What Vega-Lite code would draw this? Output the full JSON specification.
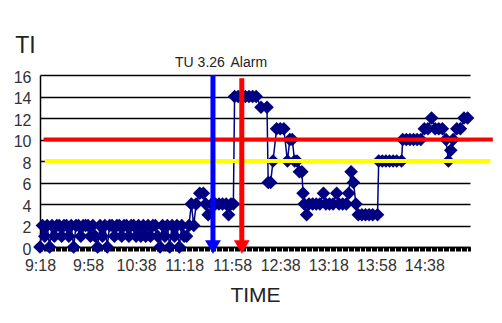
{
  "$schema": "https://vega.github.io/schema/vega-lite/v6.json",
  "width": 430,
  "height": 172,
  "autosize": "none",
  "padding": {"left": 40, "top": 75, "right": 32, "bottom": 76},
  "background": "white",
  "config": {"view": {"stroke": null}, "font": "Liberation Sans"},
  "datasets": {
    "ti": [
      {"t": "2000-01-01T09:18", "v": 0}, {"t": "2000-01-01T09:20", "v": 2}, {"t": "2000-01-01T09:22", "v": 1},
      {"t": "2000-01-01T09:24", "v": 2}, {"t": "2000-01-01T09:26", "v": 0}, {"t": "2000-01-01T09:28", "v": 2},
      {"t": "2000-01-01T09:30", "v": 1}, {"t": "2000-01-01T09:32", "v": 2}, {"t": "2000-01-01T09:34", "v": 2},
      {"t": "2000-01-01T09:36", "v": 1}, {"t": "2000-01-01T09:38", "v": 2}, {"t": "2000-01-01T09:40", "v": 2},
      {"t": "2000-01-01T09:42", "v": 1}, {"t": "2000-01-01T09:44", "v": 2}, {"t": "2000-01-01T09:46", "v": 0},
      {"t": "2000-01-01T09:48", "v": 2}, {"t": "2000-01-01T09:50", "v": 2}, {"t": "2000-01-01T09:52", "v": 1},
      {"t": "2000-01-01T09:54", "v": 2}, {"t": "2000-01-01T09:56", "v": 2}, {"t": "2000-01-01T09:58", "v": 2},
      {"t": "2000-01-01T10:00", "v": 1}, {"t": "2000-01-01T10:02", "v": 2}, {"t": "2000-01-01T10:04", "v": 1},
      {"t": "2000-01-01T10:06", "v": 0}, {"t": "2000-01-01T10:08", "v": 2}, {"t": "2000-01-01T10:10", "v": 1},
      {"t": "2000-01-01T10:12", "v": 2}, {"t": "2000-01-01T10:14", "v": 0}, {"t": "2000-01-01T10:16", "v": 2},
      {"t": "2000-01-01T10:18", "v": 2}, {"t": "2000-01-01T10:20", "v": 1}, {"t": "2000-01-01T10:22", "v": 2},
      {"t": "2000-01-01T10:24", "v": 2}, {"t": "2000-01-01T10:26", "v": 1}, {"t": "2000-01-01T10:28", "v": 2},
      {"t": "2000-01-01T10:30", "v": 2}, {"t": "2000-01-01T10:32", "v": 1}, {"t": "2000-01-01T10:34", "v": 2},
      {"t": "2000-01-01T10:36", "v": 2}, {"t": "2000-01-01T10:38", "v": 1}, {"t": "2000-01-01T10:40", "v": 2},
      {"t": "2000-01-01T10:42", "v": 1}, {"t": "2000-01-01T10:44", "v": 2}, {"t": "2000-01-01T10:46", "v": 1},
      {"t": "2000-01-01T10:48", "v": 2}, {"t": "2000-01-01T10:50", "v": 1}, {"t": "2000-01-01T10:52", "v": 2},
      {"t": "2000-01-01T10:54", "v": 2}, {"t": "2000-01-01T10:56", "v": 1}, {"t": "2000-01-01T10:58", "v": 0},
      {"t": "2000-01-01T11:00", "v": 2}, {"t": "2000-01-01T11:02", "v": 1}, {"t": "2000-01-01T11:04", "v": 2},
      {"t": "2000-01-01T11:06", "v": 0}, {"t": "2000-01-01T11:08", "v": 2}, {"t": "2000-01-01T11:10", "v": 1},
      {"t": "2000-01-01T11:12", "v": 2}, {"t": "2000-01-01T11:14", "v": 0}, {"t": "2000-01-01T11:16", "v": 2},
      {"t": "2000-01-01T11:18", "v": 1}, {"t": "2000-01-01T11:20", "v": 1}, {"t": "2000-01-01T11:22", "v": 2},
      {"t": "2000-01-01T11:24", "v": 4}, {"t": "2000-01-01T11:26", "v": 2}, {"t": "2000-01-01T11:28", "v": 4},
      {"t": "2000-01-01T11:31", "v": 5}, {"t": "2000-01-01T11:34", "v": 5}, {"t": "2000-01-01T11:36", "v": 4},
      {"t": "2000-01-01T11:38", "v": 3}, {"t": "2000-01-01T11:41", "v": 4}, {"t": "2000-01-01T11:44", "v": 4},
      {"t": "2000-01-01T11:47", "v": 4}, {"t": "2000-01-01T11:50", "v": 4}, {"t": "2000-01-01T11:53", "v": 4},
      {"t": "2000-01-01T11:55", "v": 3}, {"t": "2000-01-01T11:57", "v": 4}, {"t": "2000-01-01T11:59", "v": 4},
      {"t": "2000-01-01T12:00", "v": 14}, {"t": "2000-01-01T12:03", "v": 14}, {"t": "2000-01-01T12:06", "v": 14},
      {"t": "2000-01-01T12:09", "v": 14}, {"t": "2000-01-01T12:12", "v": 14}, {"t": "2000-01-01T12:15", "v": 14},
      {"t": "2000-01-01T12:18", "v": 14}, {"t": "2000-01-01T12:22", "v": 13}, {"t": "2000-01-01T12:27", "v": 13},
      {"t": "2000-01-01T12:28", "v": 6}, {"t": "2000-01-01T12:30", "v": 6}, {"t": "2000-01-01T12:32", "v": 8},
      {"t": "2000-01-01T12:35", "v": 11}, {"t": "2000-01-01T12:38", "v": 11}, {"t": "2000-01-01T12:41", "v": 11},
      {"t": "2000-01-01T12:44", "v": 8}, {"t": "2000-01-01T12:46", "v": 10}, {"t": "2000-01-01T12:48", "v": 10},
      {"t": "2000-01-01T12:50", "v": 8}, {"t": "2000-01-01T12:52", "v": 8}, {"t": "2000-01-01T12:54", "v": 7},
      {"t": "2000-01-01T12:56", "v": 7}, {"t": "2000-01-01T12:57", "v": 5}, {"t": "2000-01-01T12:58", "v": 4},
      {"t": "2000-01-01T13:00", "v": 3}, {"t": "2000-01-01T13:02", "v": 4}, {"t": "2000-01-01T13:05", "v": 4},
      {"t": "2000-01-01T13:08", "v": 4}, {"t": "2000-01-01T13:11", "v": 4}, {"t": "2000-01-01T13:14", "v": 5},
      {"t": "2000-01-01T13:16", "v": 4}, {"t": "2000-01-01T13:19", "v": 4}, {"t": "2000-01-01T13:22", "v": 4},
      {"t": "2000-01-01T13:25", "v": 5}, {"t": "2000-01-01T13:27", "v": 4}, {"t": "2000-01-01T13:30", "v": 4},
      {"t": "2000-01-01T13:33", "v": 4}, {"t": "2000-01-01T13:35", "v": 5}, {"t": "2000-01-01T13:37", "v": 7},
      {"t": "2000-01-01T13:39", "v": 6}, {"t": "2000-01-01T13:41", "v": 4}, {"t": "2000-01-01T13:43", "v": 3},
      {"t": "2000-01-01T13:46", "v": 3}, {"t": "2000-01-01T13:49", "v": 3}, {"t": "2000-01-01T13:52", "v": 3},
      {"t": "2000-01-01T13:55", "v": 3}, {"t": "2000-01-01T13:59", "v": 3}, {"t": "2000-01-01T14:00", "v": 8},
      {"t": "2000-01-01T14:03", "v": 8}, {"t": "2000-01-01T14:06", "v": 8}, {"t": "2000-01-01T14:09", "v": 8},
      {"t": "2000-01-01T14:12", "v": 8}, {"t": "2000-01-01T14:15", "v": 8}, {"t": "2000-01-01T14:19", "v": 8},
      {"t": "2000-01-01T14:20", "v": 10}, {"t": "2000-01-01T14:23", "v": 10}, {"t": "2000-01-01T14:26", "v": 10},
      {"t": "2000-01-01T14:29", "v": 10}, {"t": "2000-01-01T14:32", "v": 10}, {"t": "2000-01-01T14:35", "v": 10},
      {"t": "2000-01-01T14:38", "v": 11}, {"t": "2000-01-01T14:41", "v": 11}, {"t": "2000-01-01T14:44", "v": 12},
      {"t": "2000-01-01T14:47", "v": 11}, {"t": "2000-01-01T14:50", "v": 11}, {"t": "2000-01-01T14:53", "v": 11},
      {"t": "2000-01-01T14:56", "v": 10}, {"t": "2000-01-01T14:58", "v": 8}, {"t": "2000-01-01T15:00", "v": 9},
      {"t": "2000-01-01T15:02", "v": 10}, {"t": "2000-01-01T15:05", "v": 11}, {"t": "2000-01-01T15:08", "v": 11},
      {"t": "2000-01-01T15:11", "v": 12}, {"t": "2000-01-01T15:14", "v": 12}
    ],
    "limits": [
      {"level": 8, "from": "2000-01-01T09:22", "to": "2000-01-01T15:33"},
      {"level": 10, "from": "2000-01-01T09:21", "to": "2000-01-01T15:35"}
    ],
    "events": [
      {"t": "2000-01-01T11:42", "label": "TU 3.26", "top": 16, "base": 0},
      {"t": "2000-01-01T12:06", "label": "Alarm", "top": 15.7, "base": 0}
    ]
  },
  "data": {"name": "ti"},
  "encoding": {
    "x": {
      "field": "t",
      "type": "temporal",
      "scale": {
        "domain": [
          {"year": 2000, "month": 1, "date": 1, "hours": 9, "minutes": 18},
          {"year": 2000, "month": 1, "date": 1, "hours": 15, "minutes": 16}
        ]
      },
      "axis": {
        "title": "TIME",
        "titleFontSize": 21,
        "titleFontWeight": "normal",
        "titleColor": "#222222",
        "titlePadding": 11,
        "tickCount": 180,
        "labelExpr": "(hours(datum.value) * 60 + minutes(datum.value) - 558) % 40 == 0 ? timeFormat(datum.value, '%-H:%M') : ''",
        "labelOverlap": false,
        "labelFlush": false,
        "labelFontSize": 16,
        "labelColor": "#333333",
        "labelPadding": 6,
        "tickSize": 4,
        "tickColor": "#000000",
        "domainColor": "#000000",
        "domainWidth": 1.5,
        "grid": false
      }
    },
    "y": {
      "field": "v",
      "type": "quantitative",
      "scale": {"domain": [0, 16]},
      "axis": {
        "title": "TI",
        "titleAngle": 0,
        "titleX": -15,
        "titleY": -23,
        "titleAlign": "center",
        "titleBaseline": "alphabetic",
        "titleFontSize": 23,
        "titleFontWeight": "normal",
        "titleColor": "#222222",
        "values": [0, 2, 4, 6, 8, 10, 12, 14, 16],
        "ticks": false,
        "labelPadding": 9,
        "labelOffset": 2,
        "labelFontSize": 16,
        "labelColor": "#333333",
        "grid": true,
        "gridColor": "#000000",
        "gridWidth": 1.5,
        "domainColor": "#000000",
        "domainWidth": 1.5
      }
    }
  },
  "layer": [
    {"mark": {"type": "line", "color": "#000080", "strokeWidth": 1.5}},
    {"mark": {"type": "point", "shape": "diamond", "filled": true, "size": 185, "color": "#000080", "opacity": 1}},
    {
      "data": {"name": "limits"},
      "transform": [{"filter": "datum.level == 8"}],
      "mark": {"type": "rule", "color": "#ffff00", "strokeWidth": 4, "clip": false},
      "encoding": {
        "x": {"field": "from", "type": "temporal"},
        "x2": {"field": "to"},
        "y": {"field": "level", "type": "quantitative"}
      }
    },
    {
      "data": {"name": "limits"},
      "transform": [{"filter": "datum.level == 10"}],
      "mark": {"type": "rule", "color": "#ff0000", "strokeWidth": 4, "clip": false},
      "encoding": {
        "x": {"field": "from", "type": "temporal"},
        "x2": {"field": "to"},
        "y": {"field": "level", "type": "quantitative"}
      }
    },
    {
      "data": {"name": "events"},
      "mark": {"type": "rule", "strokeWidth": 5, "clip": false},
      "encoding": {
        "y": {"field": "top", "type": "quantitative"},
        "y2": {"field": "base"},
        "color": {
          "field": "label",
          "type": "nominal",
          "scale": {"domain": ["TU 3.26", "Alarm"], "range": ["#0000ff", "#ff0000"]},
          "legend": null
        }
      }
    },
    {
      "data": {"name": "events"},
      "mark": {"type": "point", "shape": "triangle-down", "filled": true, "size": 250, "opacity": 1, "dy": -6, "clip": false},
      "encoding": {
        "y": {"field": "base", "type": "quantitative"},
        "color": {"field": "label", "type": "nominal", "legend": null}
      }
    },
    {
      "data": {"name": "events"},
      "transform": [{"filter": "datum.label === 'TU 3.26'"}],
      "mark": {"type": "text", "dx": -13, "dy": -8, "fontSize": 14, "align": "center", "baseline": "alphabetic", "color": "#222222", "clip": false},
      "encoding": {
        "y": {"field": "top", "type": "quantitative"},
        "text": {"field": "label"}
      }
    },
    {
      "data": {"name": "events"},
      "transform": [{"filter": "datum.label === 'Alarm'"}],
      "mark": {"type": "text", "dx": 7, "dy": -11, "fontSize": 14, "align": "center", "baseline": "alphabetic", "color": "#222222", "clip": false},
      "encoding": {
        "y": {"field": "top", "type": "quantitative"},
        "text": {"field": "label"}
      }
    }
  ]
}
